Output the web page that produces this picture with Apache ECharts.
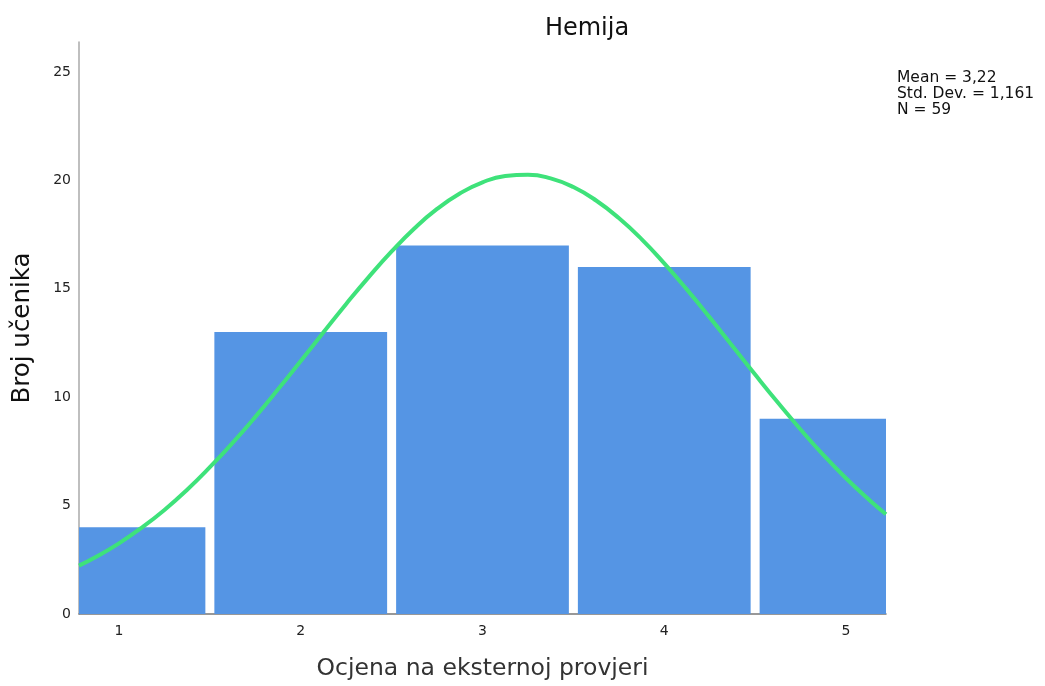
<!DOCTYPE html>
<html>
<head>
<meta charset="utf-8">
<script src="https://cdn.jsdelivr.net/npm/echarts@6/dist/echarts.min.js"></script>
<style>
html,body{margin:0;padding:0;background:#fff;}
#chart{width:1045px;height:686px;}
</style>
</head>
<body>
<div id="chart"></div>
<script>
// Histogram data
const grades = [1, 2, 3, 4, 5];
const counts = [4, 13, 17, 16, 9];
// Normal curve (x, y)
const curveX = [0.78, 0.875, 1.0, 1.125, 1.25, 1.375, 1.5, 1.625, 1.75, 1.875, 2.0, 2.125, 2.25, 2.375, 2.5, 2.625, 2.75, 2.875, 3.0, 3.125, 3.25, 3.375, 3.5, 3.625, 3.75, 3.875, 4.0, 4.125, 4.25, 4.375, 4.5, 4.625, 4.75, 4.875, 5.0, 5.125, 5.22];
const curveY = [2.23, 2.64, 3.26, 3.98, 4.80, 5.73, 6.77, 7.89, 9.09, 10.36, 11.67, 12.99, 14.30, 15.55, 16.72, 17.78, 18.68, 19.39, 19.91, 20.20, 20.26, 20.09, 19.69, 19.07, 18.26, 17.29, 16.17, 14.96, 13.68, 12.36, 11.04, 9.75, 8.51, 7.34, 6.26, 5.28, 4.60];
const xTicks = [1, 2, 3, 4, 5];
const yTicks = [0, 5, 10, 15, 20, 25];
const statLines = ['Mean = 3,22', 'Std. Dev. = 1,161', 'N = 59'];

const FONT = '"DejaVu Sans", Verdana, sans-serif';
const chart = echarts.init(document.getElementById('chart'));

const barData = grades.map((g, i) => [g, counts[i]]);
const lineData = curveX.map((x, i) => [x, curveY[i]]);

chart.setOption({
  backgroundColor: '#fff',
  animation: false,
  title: {
    text: 'Hemija',
    left: 582,
    textAlign: 'center',
    top: 12,
    textStyle: {fontFamily: FONT, fontSize: 24, fontWeight: 'normal', color: '#111'}
  },
  grid: {left: 79, right: 159, top: 42, bottom: 70},
  xAxis: {
    type: 'value',
    min: 0.78,
    max: 5.22,
    name: 'Ocjena na eksternoj provjeri',
    nameLocation: 'middle',
    nameGap: 43,
    nameTextStyle: {fontFamily: FONT, fontSize: 23.5, color: '#333'},
    axisLine: {show: true, lineStyle: {color: '#777', width: 1.5}},
    axisTick: {show: false},
    splitLine: {show: false},
    axisLabel: {
      customValues: xTicks,
      margin: 10,
      fontFamily: FONT, fontSize: 14, color: '#222'
    }
  },
  yAxis: {
    type: 'value',
    min: 0,
    max: 26.38,
    name: 'Broj učenika',
    nameLocation: 'middle',
    nameGap: 44,
    nameTextStyle: {fontFamily: FONT, fontSize: 24.5, color: '#111'},
    axisLine: {show: true, lineStyle: {color: '#aaa', width: 1.5}},
    axisTick: {show: false},
    splitLine: {show: false},
    axisLabel: {
      customValues: yTicks,
      margin: 8,
      fontFamily: FONT, fontSize: 14, color: '#222',
      padding: [6, 0, 0, 0]
    }
  },
  graphic: [{
    type: 'text',
    left: 897,
    top: 70,
    style: {
      text: statLines.join('\n'),
      font: '15.5px ' + FONT,
      lineHeight: 16,
      fill: '#111'
    }
  }],
  series: [{
    type: 'custom',
    clip: true,
    data: barData,
    renderItem: function (params, api) {
      const x = api.value(0), y = api.value(1);
      const p0 = api.coord([x - 0.5, 0]);
      const p1 = api.coord([x + 0.5, y]);
      const gap = 4.5;
      const rect = {
        x: p0[0] + gap,
        y: p1[1],
        width: p1[0] - p0[0] - 2 * gap,
        height: p0[1] - p1[1]
      };
      const cs = params.coordSys;
      const clipped = echarts.graphic.clipRectByRect(rect, {x: cs.x, y: cs.y, width: cs.width, height: cs.height});
      if (!clipped) return;
      return {type: 'rect', shape: clipped, style: {fill: '#5595e4'}};
    },
    z: 2
  }, {
    type: 'line',
    data: lineData,
    smooth: true,
    symbol: 'none',
    lineStyle: {color: '#3ee27a', width: 4},
    z: 3
  }]
});
</script>
</body>
</html>
